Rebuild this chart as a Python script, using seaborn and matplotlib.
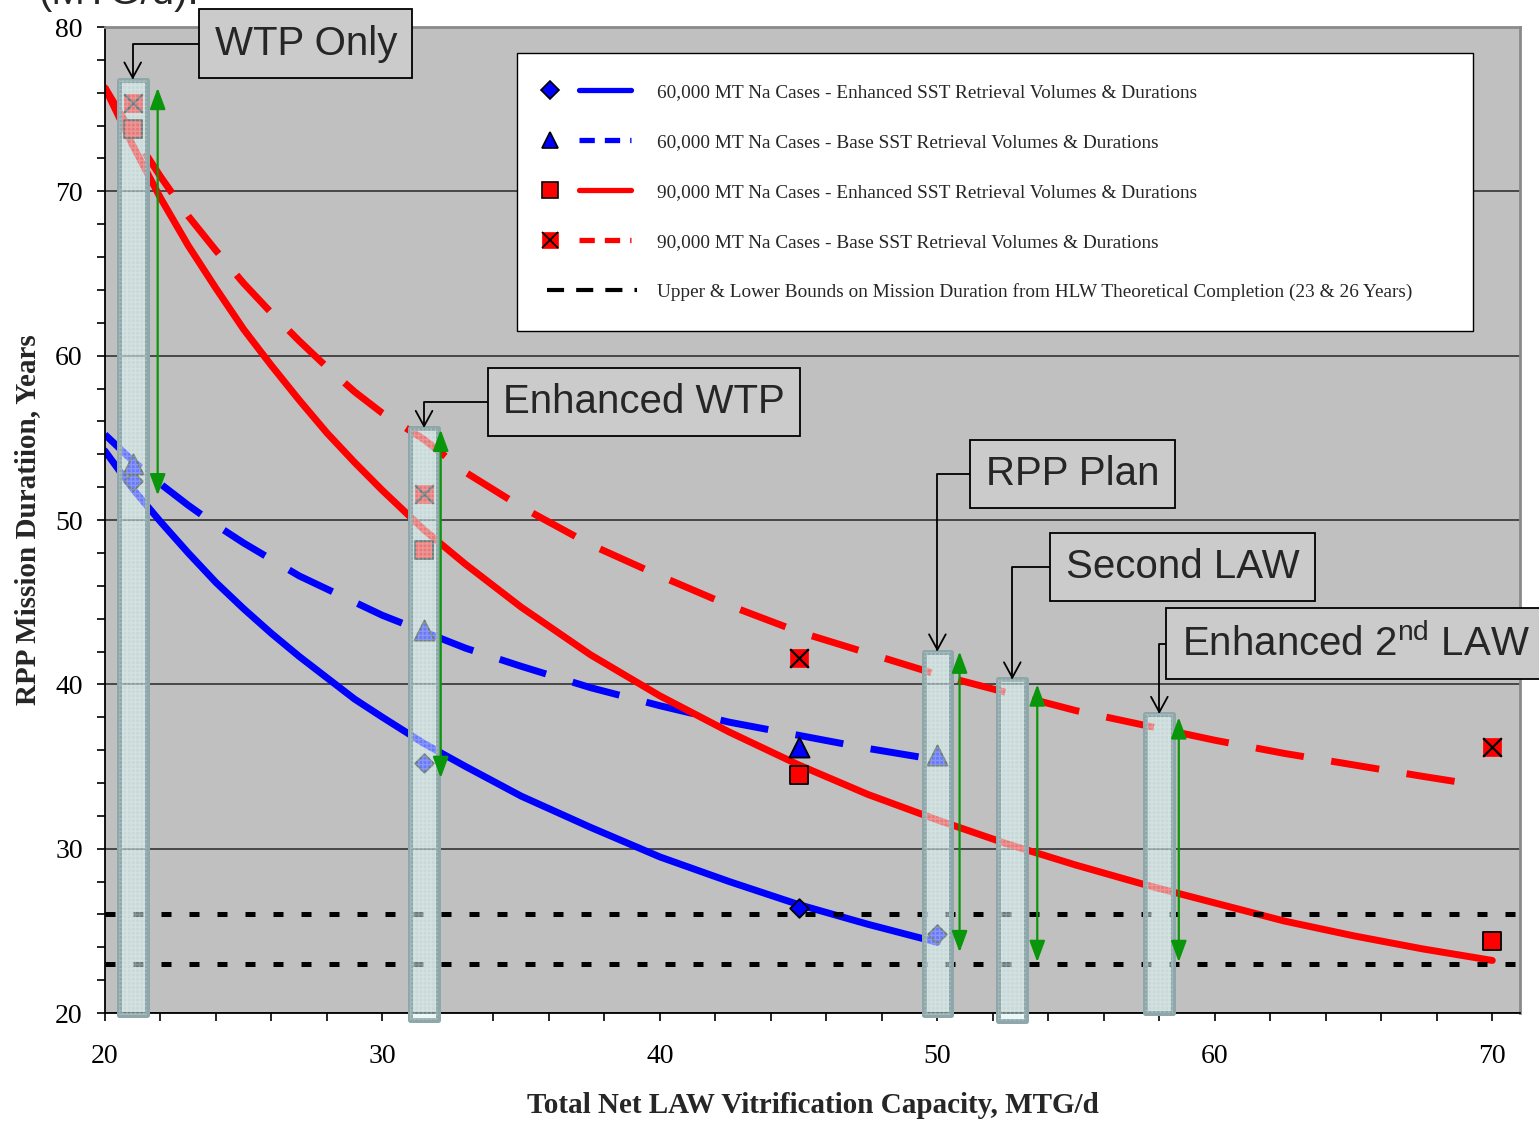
import numpy as np
import pandas as pd
import matplotlib
matplotlib.use("Agg")
import matplotlib.pyplot as plt
import seaborn as sns
from matplotlib.lines import Line2D
from matplotlib.patches import Rectangle
from matplotlib.legend_handler import HandlerBase
from matplotlib.ticker import MultipleLocator

sns.set_style("ticks")
plt.rcParams["font.family"] = ["Liberation Serif", "DejaVu Serif"]
plt.rcParams["mathtext.fontset"] = "custom"
plt.rcParams["mathtext.rm"] = "Liberation Sans"

# curves
x_60_enh = [20, 21, 22, 23, 24, 25, 26, 27, 28, 29, 30, 31.5, 33, 35, 37.5, 40, 42.5, 45, 47.5, 50]
y_60_enh = [54.2, 51.9, 49.9, 48.0, 46.2, 44.6, 43.1, 41.7, 40.4, 39.1, 38.0, 36.4, 35.0, 33.2,
            31.3, 29.5, 28.0, 26.6, 25.4, 24.3]
x_60_base = [20, 21, 22, 23, 24, 25, 26, 27, 28, 29, 30, 31.5, 33, 35, 37.5, 40, 42.5, 45, 47.5, 50]
y_60_base = [55.2, 53.6, 52.2, 50.9, 49.7, 48.6, 47.6, 46.6, 45.8, 45.0, 44.2, 43.2, 42.2, 41.1,
             39.8, 38.7, 37.7, 36.9, 36.1, 35.4]
x_90_enh = [20, 21, 22, 23, 24, 25, 26, 27, 28, 29, 30, 31.5, 33, 35, 37.5, 40, 42.5, 45, 47.5,
            50, 52.5, 55, 57.5, 60, 62.5, 65, 67.5, 70]
y_90_enh = [76.3, 72.8, 69.6, 66.7, 64.1, 61.6, 59.4, 57.3, 55.3, 53.5, 51.8, 49.4, 47.3, 44.7,
            41.8, 39.3, 37.1, 35.1, 33.3, 31.75, 30.3, 29.0, 27.8, 26.7, 25.6, 24.7, 23.9, 23.2]
x_90_base = [20, 21, 22, 23, 24, 25, 26, 27, 28, 29, 30, 31.5, 33, 35, 37.5, 40, 42.5, 45, 47.5,
             50, 52.5, 55, 57.5, 60, 62.5, 65, 67.5, 69]
y_90_base = [76.3, 73.5, 70.9, 68.5, 66.4, 64.4, 62.6, 60.9, 59.3, 57.8, 56.5, 54.9, 52.9, 50.8,
             48.5, 46.6, 44.8, 43.2, 41.9, 40.6, 39.5, 38.4, 37.5, 36.6, 35.8, 35.1, 34.4, 34.0]

# case points
mx_60_enh = [21, 31.5, 45, 50]
my_60_enh = [52.4, 35.2, 26.4, 24.8]
mx_60_base = [21, 31.5, 45, 50]
my_60_base = [53.4, 43.3, 36.2, 35.7]
mx_90_enh = [21, 31.5, 45, 70]
my_90_enh = [73.8, 48.2, 34.5, 24.4]
mx_90_base = [21, 31.5, 45, 70]
my_90_base = [75.4, 51.6, 41.6, 36.2]

# HLW completion bounds (years)
bounds = [23, 26]

# highlighted capacities
box_x = [21, 31.5, 50, 52.7, 58]
box_top = [76.8, 55.6, 42.0, 40.3, 38.2]
box_bottom = [19.9, 19.6, 19.9, 19.5, 20.0]

# green range arrows
arrow_x = [21.9, 32.1, 50.8, 53.6, 58.7]
arrow_top = [76.3, 55.5, 42.0, 40.0, 38.0]
arrow_bottom = [51.5, 34.3, 23.7, 23.1, 23.1]

# callouts
callout_labels = ["WTP Only", "Enhanced WTP", "RPP Plan", "Second LAW",
                  "Enhanced 2$^{\\mathrm{nd}}$ LAW"]
callout_x = [27.24, 39.42, 54.87, 58.83, 65.07]
callout_y = [78.98, 57.19, 52.81, 47.15, 42.46]

legend_labels = [
    "60,000 MT Na Cases - Enhanced SST Retrieval Volumes & Durations",
    "60,000 MT Na Cases - Base SST Retrieval Volumes & Durations",
    "90,000 MT Na Cases - Enhanced SST Retrieval Volumes & Durations",
    "90,000 MT Na Cases - Base SST Retrieval Volumes & Durations",
    "Upper & Lower Bounds on Mission Duration from HLW Theoretical Completion (23 & 26 Years)",
]

BLUE = "#0000ff"
RED = "#ff0000"
GREEN = "#0a960a"

fig = plt.figure(figsize=(15.39, 11.21), dpi=100)
ax = fig.add_axes([0.0682, 0.0963, 0.9195, 0.8796])
ax.set_facecolor("#c0c0c0")

# curves
sns.lineplot(x=x_60_enh, y=y_60_enh, ax=ax, color=BLUE, lw=5, estimator=None, zorder=2)
sns.lineplot(x=x_60_base, y=y_60_base, ax=ax, color=BLUE, lw=5, estimator=None,
             linestyle=(0, (7, 4)), zorder=2)
sns.lineplot(x=x_90_enh, y=y_90_enh, ax=ax, color=RED, lw=5, estimator=None, zorder=2)
sns.lineplot(x=x_90_base, y=y_90_base, ax=ax, color=RED, lw=5, estimator=None,
             linestyle=(0, (7, 4)), zorder=2)

for yb in bounds:
    ax.axhline(yb, color="black", lw=3.6, linestyle=(0, (2.0, 3.6)), zorder=2.5)

# points
sns.scatterplot(x=mx_60_enh, y=my_60_enh, ax=ax, marker="D", s=90, color=BLUE,
                edgecolor="black", linewidth=1.3, zorder=3)
sns.scatterplot(x=mx_60_base, y=my_60_base, ax=ax, marker="^", s=210, color=BLUE,
                edgecolor="black", linewidth=1.3, zorder=3)
sns.scatterplot(x=mx_90_enh, y=my_90_enh, ax=ax, marker="s", s=169, color=RED,
                edgecolor="black", linewidth=1.3, zorder=3)
sns.scatterplot(x=mx_90_base, y=my_90_base, ax=ax, marker="s", s=180, color=RED,
                edgecolor=RED, linewidth=0.5, zorder=3)
ax.scatter(mx_90_base, my_90_base, marker="x", s=180, color="black", linewidth=1.6, zorder=3.1)

# translucent highlight columns
for bx, bt, bb in zip(box_x, box_top, box_bottom):
    ax.add_patch(Rectangle((bx - 0.5, bb), 1.0, bt - bb, facecolor=(0.82, 0.95, 0.95, 0.5),
                           edgecolor="#8ea7aa", lw=3.6, joinstyle="round", zorder=4, clip_on=False))
    ax.add_patch(Rectangle((bx - 0.5, bb), 1.0, bt - bb, fill=False, hatch="++++",
                           edgecolor=(1, 1, 1, 0.22), lw=0, zorder=4.1, clip_on=False))

# range arrows
for axx, at, ab in zip(arrow_x, arrow_top, arrow_bottom):
    ax.annotate("", xy=(axx, ab), xytext=(axx, at),
                arrowprops=dict(arrowstyle="<|-|>,head_length=0.65,head_width=0.24",
                                color=GREEN, lw=1.6, shrinkA=0, shrinkB=0, mutation_scale=20),
                zorder=5)

# callout labels
for lab, tx, ty, bx, bt in zip(callout_labels, callout_x, callout_y, box_x, box_top):
    ax.annotate(lab, xy=(bx, bt), xytext=(tx, ty), ha="center", va="center",
                fontsize=29, family="Liberation Sans", zorder=8, annotation_clip=False,
                bbox=dict(boxstyle="square,pad=0.38", fc="#cbcbcb", ec="black", lw=1.3),
                arrowprops=dict(arrowstyle="->,head_length=0.55,head_width=0.3",
                                connectionstyle="angle,angleA=180,angleB=90,rad=0",
                                relpos=(0, 0.5), color="black", lw=1.3,
                                shrinkA=0, shrinkB=0, mutation_scale=20))


class MarkerLineHandler(HandlerBase):
    def create_artists(self, legend, orig_handle, xdescent, ydescent, width, height, fontsize, trans):
        *marks, line = orig_handle
        y = height / 2 - ydescent
        out = []
        for mk in marks:
            m = Line2D([-xdescent + 0.03 * width], [y])
            m.update_from(mk)
            m.set_transform(trans)
            out.append(m)
        ln = Line2D([-xdescent + 0.35 * width, -xdescent + 0.94 * width], [y, y])
        ln.update_from(line)
        ln.set_transform(trans)
        out.append(ln)
        return out


mk_kw = dict(ls="none", mec="black", mew=1.2)
handles = [
    (Line2D([], [], marker="D", ms=9, mfc=BLUE, **mk_kw),
     Line2D([], [], color=BLUE, lw=3.8)),
    (Line2D([], [], marker="^", ms=12, mfc=BLUE, **mk_kw),
     Line2D([], [], color=BLUE, lw=3.8, ls=(0, (2.9, 1.9)))),
    (Line2D([], [], marker="s", ms=11, mfc=RED, **mk_kw),
     Line2D([], [], color=RED, lw=3.8)),
    (Line2D([], [], marker="s", ms=11, mfc=RED, ls="none", mec=RED, mew=0.5),
     Line2D([], [], marker="x", ms=11, ls="none", mec="black", mew=1.3),
     Line2D([], [], color=RED, lw=3.8, ls=(0, (2.9, 1.9)))),
    Line2D([], [], color="black", lw=3.0, ls=(0, (4.1, 2.9))),
]
leg = ax.legend(handles=handles, labels=legend_labels, handler_map={tuple: MarkerLineHandler()},
                loc="upper left", bbox_to_anchor=(0.2912, 0.6876, 0.6756, 0.286), mode="expand",
                prop={"family": "Liberation Serif", "size": 13.85}, frameon=True, fancybox=False,
                edgecolor="black", facecolor="white", framealpha=1, borderpad=1.57,
                labelspacing=1.69, handlelength=4.65, handletextpad=1.06, borderaxespad=0)
leg.get_frame().set_linewidth(1.0)
leg.set_zorder(7)

# axes styling
ax.set_xlim(20, 71)
ax.set_ylim(20, 80)
ax.xaxis.set_major_locator(MultipleLocator(10))
ax.xaxis.set_minor_locator(MultipleLocator(2))
ax.yaxis.set_major_locator(MultipleLocator(10))
ax.yaxis.set_minor_locator(MultipleLocator(2))
ax.tick_params(axis="both", which="both", direction="out", length=6, width=1.2, colors="black")
ax.tick_params(axis="x", which="major", pad=16, labelsize=20)
ax.tick_params(axis="y", which="major", pad=10, labelsize=20)
ax.yaxis.grid(True, which="major", color="#333333", lw=1.2)
ax.xaxis.grid(False)
ax.set_axisbelow(True)
for side in ["left", "bottom"]:
    ax.spines[side].set_color("black")
    ax.spines[side].set_linewidth(1.3)
for side in ["top", "right"]:
    ax.spines[side].set_visible(True)
    ax.spines[side].set_color("#8a8a8a")
    ax.spines[side].set_linewidth(2)

ax.set_xlabel("Total Net LAW Vitrification Capacity, MTG/d", fontsize=21, fontweight="bold", labelpad=17)
ax.set_ylabel("RPP Mission Duratiion, Years", fontsize=21, fontweight="bold", labelpad=10)

# caption fragment cut by the top edge (as in the source image)
fig.text(0.0247, 1 - 4 / 1121, "(MTG/d).", fontsize=29, family="Liberation Sans", va="baseline")

fig.savefig("out.png", dpi=100)
